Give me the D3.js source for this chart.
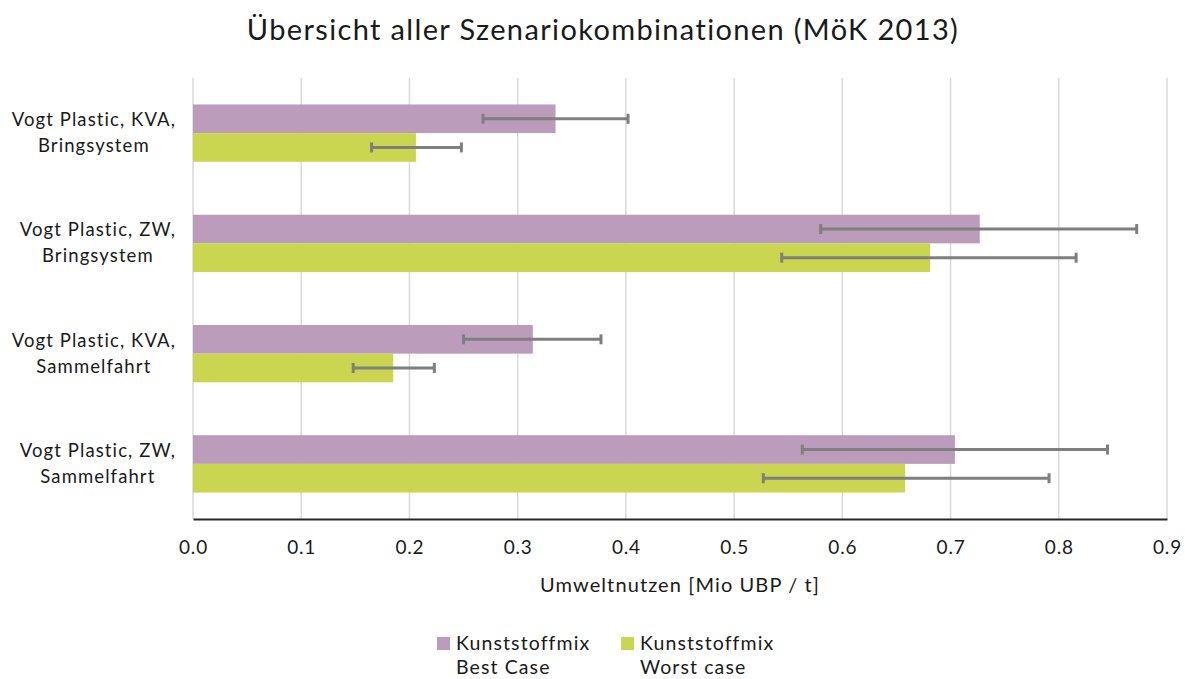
<!DOCTYPE html>
<html>
<head>
<meta charset="utf-8">
<script src="https://cdn.jsdelivr.net/npm/d3@7"></script>
<style>
  body { margin: 0; background: #fff; }
  svg text { font-family: Lato, "Noto Sans", sans-serif; fill: #1a1a1a; }
</style>
</head>
<body>
<svg id="chart" width="1185" height="679"></svg>
<script>
var categories = [
    ["Vogt Plastic, KVA,", "Bringsystem"],
    ["Vogt Plastic, ZW,", "Bringsystem"],
    ["Vogt Plastic, KVA,", "Sammelfahrt"],
    ["Vogt Plastic, ZW,", "Sammelfahrt"]
];
var seriesNames = [["Kunststoffmix", "Best Case"], ["Kunststoffmix", "Worst case"]];
var seriesColors = ["#bb9cbb", "#cbd650"];

var bestCase = [0.335, 0.727, 0.314, 0.704];
var bestLow  = [0.268, 0.580, 0.250, 0.563];
var bestHigh = [0.402, 0.872, 0.377, 0.845];

var worstCase = [0.206, 0.681, 0.185, 0.658];
var worstLow  = [0.165, 0.544, 0.148, 0.527];
var worstHigh = [0.248, 0.816, 0.223, 0.791];

var xTicks = [0, 0.1, 0.2, 0.3, 0.4, 0.5, 0.6, 0.7, 0.8, 0.9];

var svg = d3.select("#chart");
var plotLeft = 193, plotRight = 1167, plotTop = 78, plotBottom = 519;

var x = d3.scaleLinear().domain([0, 0.9]).range([plotLeft, plotRight]);
var y = d3.scaleBand().domain(d3.range(categories.length)).range([plotTop, plotBottom])
    .paddingInner(0.48).paddingOuter(0.24);
var ySub = d3.scaleBand().domain([0, 1]).range([0, y.bandwidth()]);

// title
svg.append("text")
    .attr("x", 603).attr("y", 40)
    .attr("text-anchor", "middle")
    .style("font-size", "29px")
    .style("letter-spacing", "1.35px")
    .text("Übersicht aller Szenariokombinationen (MöK 2013)");

// gridlines
svg.append("g").selectAll("line")
    .data(xTicks.slice(1))
    .enter().append("line")
    .attr("x1", function(d) { return x(d); })
    .attr("x2", function(d) { return x(d); })
    .attr("y1", plotTop).attr("y2", plotBottom)
    .attr("stroke", "#d9d9d9").attr("stroke-width", 1.5);

// y axis line
svg.append("line")
    .attr("x1", plotLeft).attr("x2", plotLeft).attr("y1", plotTop).attr("y2", plotBottom)
    .attr("stroke", "#d9d9d9").attr("stroke-width", 1.5);

var series = [
    { vals: bestCase, lo: bestLow, hi: bestHigh },
    { vals: worstCase, lo: worstLow, hi: worstHigh }
];

series.forEach(function(s, si) {
    svg.append("g").selectAll("rect")
        .data(s.vals)
        .enter().append("rect")
        .attr("x", x(0))
        .attr("y", function(d, i) { return y(i) + ySub(si); })
        .attr("width", function(d) { return x(d) - x(0); })
        .attr("height", ySub.bandwidth())
        .attr("fill", seriesColors[si]);
});

// error bars
series.forEach(function(s, si) {
    var g = svg.append("g").attr("stroke", "#7f7f7f").attr("stroke-width", 3);
    s.vals.forEach(function(v, i) {
        var cy = y(i) + ySub(si) + ySub.bandwidth() / 2;
        g.append("line")
            .attr("x1", x(s.lo[i])).attr("x2", x(s.hi[i]))
            .attr("y1", cy).attr("y2", cy);
        [s.lo[i], s.hi[i]].forEach(function(e) {
            g.append("line")
                .attr("x1", x(e)).attr("x2", x(e))
                .attr("y1", cy - 5).attr("y2", cy + 5);
        });
    });
});

// x axis
var xAxis = svg.append("g")
    .attr("transform", "translate(0," + plotBottom + ")")
    .call(d3.axisBottom(x).tickValues(xTicks).tickFormat(d3.format(".1f")).tickSize(0).tickPadding(22));
xAxis.select(".domain").attr("stroke", "#262626").attr("stroke-width", 2);
xAxis.selectAll("text")
    .style("font-size", "19px")
    .style("letter-spacing", "0.8px")
    .style("font-family", "Lato, sans-serif")
    .attr("fill", "#1a1a1a");

svg.append("text")
    .attr("x", (plotLeft + plotRight) / 2).attr("y", 592)
    .attr("text-anchor", "middle")
    .style("font-size", "20px")
    .style("letter-spacing", "1.1px")
    .text("Umweltnutzen [Mio UBP / t]");

// category labels, lines centred, block right-aligned
categories.forEach(function(lines, i) {
    var cy = y(i) + y.bandwidth() / 2;
    var t = svg.append("text").attr("text-anchor", "middle")
        .style("font-size", "18.5px").style("letter-spacing", "1.1px");
    var spans = [];
    lines.forEach(function(ln, k) {
        spans.push(t.append("tspan").attr("y", cy - 7 + k * 26).text(ln));
    });
    var w = d3.max(spans, function(sp) { return sp.node().getComputedTextLength(); });
    spans.forEach(function(sp) { sp.attr("x", 176 - w / 2); });
});

// legend
var legendX = [437, 621];
seriesNames.forEach(function(lines, i) {
    var lg = svg.append("g");
    lg.append("rect")
        .attr("x", legendX[i]).attr("y", 637)
        .attr("width", 13).attr("height", 13)
        .attr("fill", seriesColors[i]);
    lines.forEach(function(ln, k) {
        lg.append("text")
            .attr("x", legendX[i] + 19).attr("y", 650 + k * 24)
            .style("font-size", "19.5px")
            .style("letter-spacing", "1.1px")
            .text(ln);
    });
});
</script>
</body>
</html>
